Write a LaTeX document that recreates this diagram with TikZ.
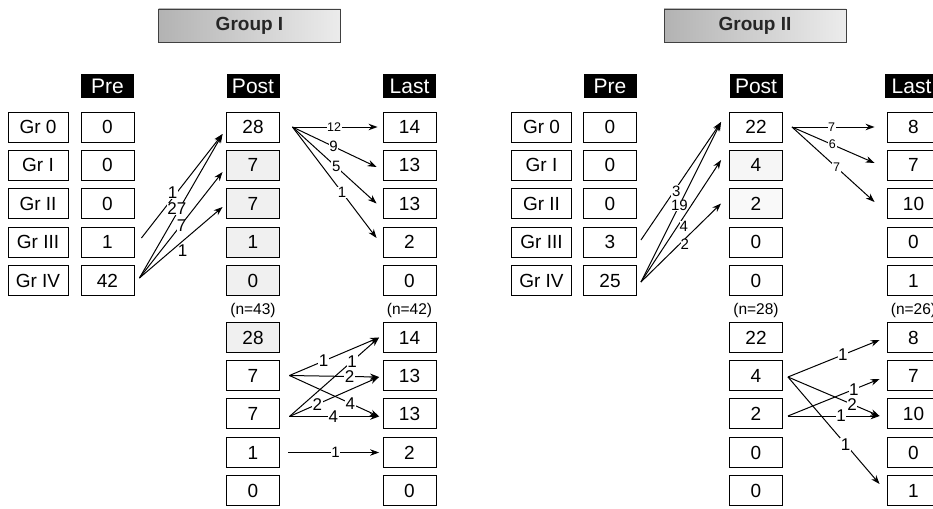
\documentclass[tikz,border=0pt]{standalone}
\usepackage{fontspec}
\setmainfont{Liberation Sans}
\usetikzlibrary{arrows.meta,calc}
\begin{document}
\begin{tikzpicture}[x=1pt,y=-1pt,
  valbox/.style={draw=black,line width=0.9pt,minimum width=53pt,minimum height=30pt,inner sep=0pt,font=\fontsize{19}{20}\selectfont,fill=white},
  grbox/.style={valbox,minimum width=60pt},
  hdr/.style={fill=black,text=white,minimum width=53pt,minimum height=24pt,inner sep=0pt,font=\fontsize{21}{22}\selectfont},
  titlebox/.style={draw=gray!50!black,line width=0.7pt,left color=gray!60,right color=gray!15,minimum width=182pt,minimum height=33pt,inner sep=0pt,font=\bfseries\fontsize{19}{20}\selectfont,text=black!85},
  ncount/.style={font=\fontsize{15.5}{16}\selectfont,inner sep=0pt},
  arr/.style={-{Stealth[length=9pt,width=6.5pt]},line width=1pt},
  thinarr/.style={arr,line width=0.7pt},
  lbl/.style={fill=white,inner sep=0.6pt,font=\fontsize{17}{17}\selectfont},
  mlbl/.style={lbl,font=\fontsize{15}{15}\selectfont},
  slbl/.style={lbl,font=\fontsize{12.5}{12.5}\selectfont},
  speck/.style={fill=gray!12}
]
\useasboundingbox (0,0) rectangle (933,508);

% ================= Group I =================
\node[titlebox] (t1) at (249.5,25.5) {Group I};
\node[hdr] (h1pre) at (107.5,86.5) {Pre};
\node[hdr] (h1post) at (253,86.5) {Post};
\node[hdr] (h1last) at (409.5,86.5) {Last};

\node[grbox] (g1a) at (38,127) {Gr 0};
\node[grbox] (g1b) at (38,165) {Gr I};
\node[grbox] (g1c) at (38,203.5) {Gr II};
\node[grbox] (g1d) at (38,242) {Gr III};
\node[grbox] (g1e) at (38,280.5) {Gr IV};

\node[valbox] (p1a) at (107.5,127) {0};
\node[valbox] (p1b) at (107.5,165) {0};
\node[valbox] (p1c) at (107.5,203.5) {0};
\node[valbox] (p1d) at (107.5,242) {1};
\node[valbox] (p1e) at (107.5,280.5) {42};

\node[valbox] (q1a) at (253,127) {28};
\node[valbox,speck] (q1b) at (253,165) {7};
\node[valbox,speck] (q1c) at (253,203.5) {7};
\node[valbox,speck] (q1d) at (253,242) {1};
\node[valbox,speck] (q1e) at (253,280.5) {0};

\node[valbox] (l1a) at (409.5,127) {14};
\node[valbox] (l1b) at (409.5,165) {13};
\node[valbox] (l1c) at (409.5,203.5) {13};
\node[valbox] (l1d) at (409.5,242) {2};
\node[valbox] (l1e) at (409.5,280.5) {0};

\node[ncount] (n1a) at (253,310) {(n=43)};
\node[ncount] (n1b) at (409.5,310) {(n=42)};

\node[valbox,speck] (u1a) at (253,337.5) {28};
\node[valbox] (u1b) at (253,375.5) {7};
\node[valbox] (u1c) at (253,413.5) {7};
\node[valbox] (u1d) at (253,452.5) {1};
\node[valbox] (u1e) at (253,490.5) {0};

\node[valbox] (v1a) at (409.5,337.5) {14};
\node[valbox] (v1b) at (409.5,375.5) {13};
\node[valbox] (v1c) at (409.5,413.5) {13};
\node[valbox] (v1d) at (409.5,452.5) {2};
\node[valbox] (v1e) at (409.5,490.5) {0};

% upper left arrows
\draw[arr] ($(p1d.east)+(7,-4)$) -- node[lbl,pos=0.44,xshift=-4.5pt] {1} ($(q1a.west)+(-3.5,7)$);
\draw[arr] ($(p1e.east)+(5,-2.5)$) -- node[lbl,pos=0.48,xshift=-2.5pt,inner sep=0pt] {27} ($(q1a.west)+(-3.5,7)$);
\draw[arr] ($(p1e.east)+(5,-2.5)$) -- node[lbl,pos=0.49,xshift=1.5pt,inner sep=0pt] {7} ($(q1b.west)+(-3.5,7)$);
\draw[arr] ($(p1e.east)+(5,-2.5)$) -- node[lbl,pos=0.52,yshift=-10pt,fill=none] {1} ($(q1c.west)+(-3.5,3.5)$);

% upper right arrows
\draw[arr] ($(q1a.east)+(12.5,0)$) -- node[slbl,pos=0.49] {12} ($(l1a.west)+(-5,0)$);
\draw[arr] ($(q1a.east)+(12.5,0)$) -- node[mlbl,pos=0.49] {9} ($(l1b.west)+(-6,2)$);
\draw[arr] ($(q1a.east)+(12.5,0)$) -- node[mlbl,pos=0.52] {5} ($(l1c.west)+(-6,0)$);
\draw[arr] ($(q1a.east)+(12.5,0)$) -- node[mlbl,pos=0.59] {1} ($(l1d.west)+(-6,-4)$);

% lower arrows
\draw[arr] ($(u1b.east)+(9.5,0)$) -- node[lbl,pos=0.38] {1} ($(v1a.west)+(-3.5,0)$);
\draw[arr] ($(u1c.east)+(9.5,3)$) -- node[lbl,pos=0.70] {1} ($(v1a.west)+(-3.5,0)$);
\draw[arr] ($(u1b.east)+(9.5,0)$) -- node[lbl,pos=0.67] {2} ($(v1b.west)+(-3.5,1.5)$);
\draw[arr] ($(u1c.east)+(9.5,3)$) -- node[lbl,pos=0.31] {2} ($(v1b.west)+(-3.5,1.5)$);
\draw[arr] ($(u1b.east)+(9.5,0)$) -- node[lbl,pos=0.68] {4} ($(v1c.west)+(-3.5,3)$);
\draw[arr] ($(u1c.east)+(9.5,3)$) -- node[lbl,pos=0.49] {4} ($(v1c.west)+(-3.5,3)$);
\draw[thinarr] ($(u1d.east)+(8.5,0)$) -- node[mlbl,pos=0.52] {1} ($(v1d.west)+(-3.5,0)$);

% ================= Group II =================
\node[titlebox] (t2) at (755,25.5) {Group II};
\node[hdr] (h2pre) at (610,86.5) {Pre};
\node[hdr] (h2post) at (756,86.5) {Post};
\node[hdr] (h2last) at (911.5,86.5) {Last};

\node[grbox] (g2a) at (541.5,127) {Gr 0};
\node[grbox] (g2b) at (541.5,165) {Gr I};
\node[grbox] (g2c) at (541.5,203.5) {Gr II};
\node[grbox] (g2d) at (541.5,242) {Gr III};
\node[grbox] (g2e) at (541.5,280.5) {Gr IV};

\node[valbox] (p2a) at (610,127) {0};
\node[valbox] (p2b) at (610,165) {0};
\node[valbox] (p2c) at (610,203.5) {0};
\node[valbox] (p2d) at (610,242) {3};
\node[valbox] (p2e) at (610,280.5) {25};

\node[valbox] (q2a) at (756,127) {22};
\node[valbox,fill=gray!7] (q2b) at (756,165) {4};
\node[valbox,fill=gray!5] (q2c) at (756,203.5) {2};
\node[valbox] (q2d) at (756,242) {0};
\node[valbox] (q2e) at (756,280.5) {0};

\node[valbox] (l2a) at (913.5,127) {8};
\node[valbox] (l2b) at (913.5,165) {7};
\node[valbox] (l2c) at (913.5,203.5) {10};
\node[valbox] (l2d) at (913.5,242) {0};
\node[valbox] (l2e) at (913.5,280.5) {1};

\node[ncount] (n2a) at (756,310) {(n=28)};
\node[ncount] (n2b) at (913.5,310) {(n=26)};

\node[valbox] (u2a) at (756,337.5) {22};
\node[valbox] (u2b) at (756,375.5) {4};
\node[valbox] (u2c) at (756,413.5) {2};
\node[valbox] (u2d) at (756,452.5) {0};
\node[valbox] (u2e) at (756,490.5) {0};

\node[valbox] (v2a) at (913.5,337.5) {8};
\node[valbox] (v2b) at (913.5,375.5) {7};
\node[valbox] (v2c) at (913.5,413.5) {10};
\node[valbox] (v2d) at (913.5,452.5) {0};
\node[valbox] (v2e) at (913.5,490.5) {1};

% upper left arrows
\draw[arr] ($(p2d.east)+(4,-2)$) -- node[mlbl,pos=0.415,xshift=2pt] {3} ($(q2a.west)+(-8,-5)$);
\draw[arr] ($(p2e.east)+(4,1.5)$) -- node[mlbl,pos=0.48,inner sep=0pt] {19} ($(q2a.west)+(-8,-5)$);
\draw[arr] ($(p2e.east)+(4,1.5)$) -- node[mlbl,pos=0.46,xshift=6pt,inner sep=0pt] {4} ($(q2b.west)+(-8,-5)$);
\draw[arr] ($(p2e.east)+(4,1.5)$) -- node[mlbl,pos=0.48,xshift=5.5pt,inner sep=0pt] {2} ($(q2c.west)+(-8,0)$);

% upper right arrows
\draw[arr] ($(q2a.east)+(9,0)$) -- node[slbl,pos=0.48] {7} ($(l2a.west)+(-12,0)$);
\draw[arr] ($(q2a.east)+(9,0)$) -- node[slbl,pos=0.49] {6} ($(l2b.west)+(-12,-2)$);
\draw[arr] ($(q2a.east)+(9,0)$) -- node[slbl,pos=0.54] {7} ($(l2c.west)+(-12,-1.5)$);

% lower arrows
\draw[arr] ($(u2b.east)+(5,1.5)$) -- node[lbl,pos=0.60] {1} ($(v2a.west)+(-7,2.5)$);
\draw[arr] ($(u2b.east)+(5,1.5)$) -- node[lbl,pos=0.70] {2} ($(v2c.west)+(-7,2.5)$);
\draw[arr] ($(u2b.east)+(5,1.5)$) -- node[lbl,pos=0.63] {1} ($(v2e.west)+(-7,-6.5)$);
\draw[arr] ($(u2c.east)+(5,2.5)$) -- node[lbl,pos=0.72] {1} ($(v2b.west)+(-7,3.5)$);
\draw[arr] ($(u2c.east)+(5,2.5)$) -- node[lbl,pos=0.58] {1} ($(v2c.west)+(-7,2.5)$);
\end{tikzpicture}
\end{document}
